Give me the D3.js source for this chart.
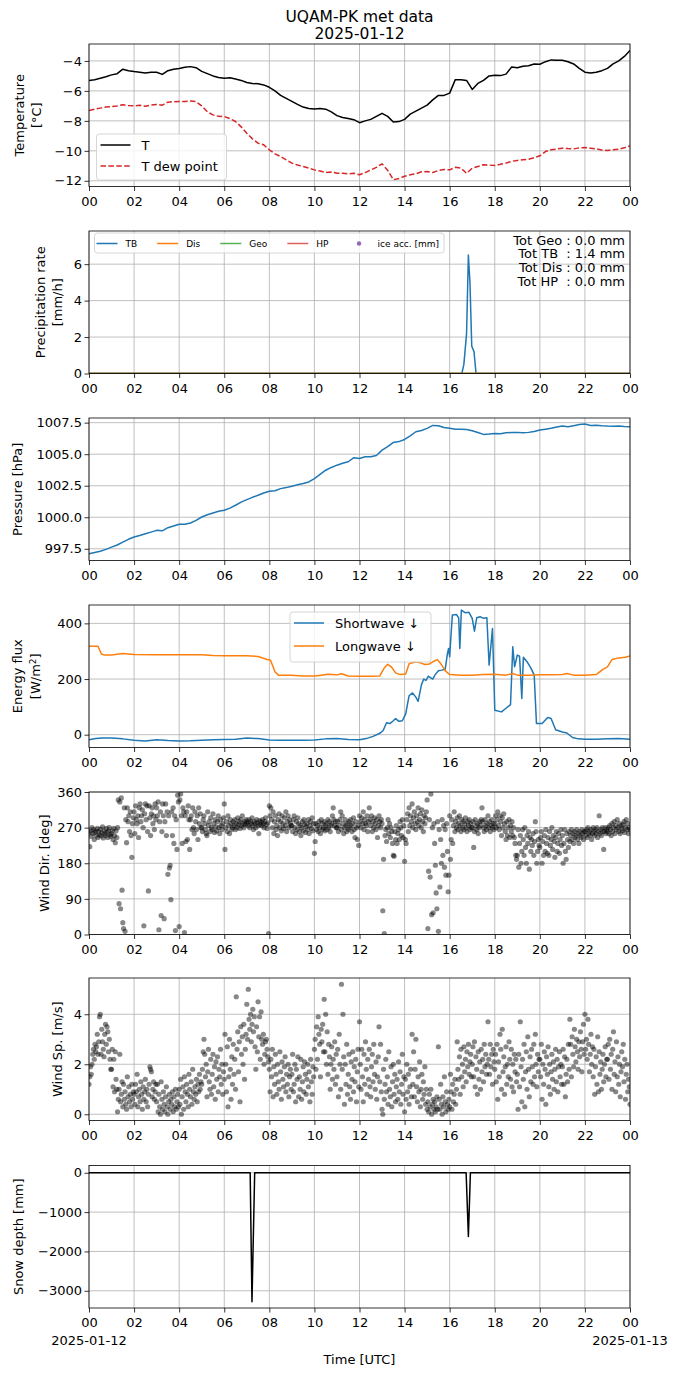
<!DOCTYPE html>
<html>
<head>
<meta charset="utf-8">
<script src="https://cdn.jsdelivr.net/npm/d3@7"></script>
<style>
  body { margin: 0; background: #fff; }
  svg text { font-family: "DejaVu Sans", sans-serif; }
</style>
</head>
<body>
<div id="chart"></div>
<script>
// all times are hours since 2025-01-12 00:00 UTC
const hourTicks = [0, 2, 4, 6, 8, 10, 12, 14, 16, 18, 20, 22, 24]
const hourLabels = ['00', '02', '04', '06', '08', '10', '12', '14', '16', '18', '20', '22', '00']
const dayLabels = ['2025-01-12', '2025-01-13']

// temperature and dew point, one value every 15 min
const temp = [
  -5.31, -5.25, -5.15, -5.05, -4.93, -4.85, -4.55, -4.65, -4.71, -4.75, -4.80, -4.75,
  -4.76, -4.90, -4.65, -4.55, -4.50, -4.42, -4.38, -4.45, -4.70, -4.85, -5.00, -5.10,
  -5.15, -5.12, -5.20, -5.30, -5.44, -5.50, -5.53, -5.60, -5.76, -6.00, -6.30, -6.50,
  -6.70, -6.90, -7.08, -7.18, -7.20, -7.18, -7.22, -7.40, -7.65, -7.78, -7.84, -7.92,
  -8.12, -8.00, -7.90, -7.70, -7.50, -7.70, -8.07, -8.05, -7.90, -7.55, -7.35, -7.15,
  -6.95, -6.60, -6.30, -6.30, -6.15, -5.25, -5.25, -5.30, -5.90, -5.50, -5.30, -5.00,
  -4.95, -4.98, -4.88, -4.40, -4.45, -4.35, -4.32, -4.20, -4.22, -4.05, -3.93, -3.95,
  -3.95, -4.05, -4.20, -4.50, -4.75, -4.80, -4.75, -4.65, -4.50, -4.20, -4.00, -3.70, -3.30
]
const dewPoint = [
  -7.31, -7.22, -7.15, -7.08, -7.04, -7.00, -6.93, -6.98, -7.00, -6.96, -7.02, -6.95,
  -6.90, -6.95, -6.75, -6.72, -6.71, -6.70, -6.67, -6.72, -7.00, -7.40, -7.60, -7.70,
  -7.71, -7.85, -8.04, -8.40, -8.82, -9.20, -9.49, -9.60, -9.93, -10.20, -10.38, -10.60,
  -10.82, -10.95, -11.04, -11.15, -11.27, -11.35, -11.44, -11.42, -11.49, -11.50, -11.53, -11.50,
  -11.60, -11.45, -11.27, -11.10, -10.87, -11.30, -11.93, -11.85, -11.70, -11.60, -11.53, -11.40,
  -11.38, -11.45, -11.31, -11.25, -11.27, -11.10, -11.16, -11.50, -11.16, -11.05, -10.93, -10.95,
  -10.98, -10.90, -10.82, -10.70, -10.64, -10.60, -10.56, -10.45, -10.33, -10.05, -9.93, -9.88,
  -9.82, -9.85, -9.87, -9.80, -9.78, -9.82, -9.87, -9.95, -9.98, -9.92, -9.89, -9.80, -9.67
]

// precipitation rate [mm/h], [hour, value]
const precipTB = [[0, 0], [16.54, 0], [16.63, 0.5], [16.75, 2.2], [16.83, 6.5], [16.9, 5.0],
  [16.98, 1.5], [17.08, 1.2], [17.17, 0], [24, 0]]
const precipDis = [[0, 0], [24, 0]]
const precipGeo = [[0, 0], [24, 0]]
const precipHP = [[0, 0], [24, 0]]
const iceAcc = []
const precipTotals = ['Tot Geo : 0.0 mm', 'Tot TB  : 1.4 mm', 'Tot Dis : 0.0 mm', 'Tot HP  : 0.0 mm']

// pressure [hPa], one value every 15 min
const pressure = [
  997.10, 997.20, 997.30, 997.45, 997.63, 997.80, 998.03, 998.25, 998.43, 998.55, 998.69, 998.82,
  998.96, 998.92, 999.17, 999.30, 999.44, 999.45, 999.54, 999.75, 1000.02, 1000.20, 1000.34, 1000.48,
  1000.55, 1000.72, 1000.95, 1001.20, 1001.40, 1001.58, 1001.74, 1001.92, 1002.06, 1002.10, 1002.27, 1002.35,
  1002.46, 1002.58, 1002.67, 1002.80, 1003.07, 1003.40, 1003.73, 1003.95, 1004.13, 1004.28, 1004.40, 1004.72,
  1004.66, 1004.80, 1004.79, 1004.90, 1005.32, 1005.60, 1005.93, 1006.00, 1006.17, 1006.45, 1006.78, 1006.88,
  1007.05, 1007.28, 1007.26, 1007.12, 1007.05, 1006.98, 1006.97, 1006.95, 1006.86, 1006.72, 1006.57, 1006.60,
  1006.65, 1006.62, 1006.70, 1006.72, 1006.73, 1006.70, 1006.73, 1006.80, 1006.92, 1006.98, 1007.05, 1007.15,
  1007.23, 1007.18, 1007.26, 1007.35, 1007.39, 1007.28, 1007.29, 1007.25, 1007.23, 1007.22, 1007.23, 1007.20, 1007.18
]

// downwelling radiation [W/m2], [hour, value]
const shortwave = [[0, -18], [0.3, -14], [0.6, -12], [1, -12], [1.5, -15], [2, -20], [2.5, -23], [3, -18],
  [3.5, -21], [4, -23], [4.5, -22], [5, -20], [5.5, -18], [6, -17], [6.5, -16], [7, -12], [7.5, -14], [8, -19],
  [8.5, -20], [9, -20], [9.5, -20], [10, -19], [10.5, -15], [11, -14], [11.5, -17], [12, -18], [12.3, -14],
  [12.6, -6], [12.9, 5], [13.05, 15], [13.2, 43], [13.35, 40], [13.5, 50], [13.6, 58], [13.75, 48], [13.9, 50],
  [14.05, 75], [14.2, 140], [14.35, 150], [14.5, 135], [14.6, 120], [14.75, 180], [14.85, 200], [14.95, 195],
  [15.05, 210], [15.15, 205], [15.25, 200], [15.35, 215], [15.5, 230], [15.65, 232], [15.8, 235], [15.9, 290],
  [15.95, 310], [16.0, 280], [16.05, 346], [16.12, 430], [16.3, 432], [16.4, 420], [16.45, 310], [16.52, 448],
  [16.7, 438], [16.85, 440], [17.0, 418], [17.1, 372], [17.2, 420], [17.35, 424], [17.5, 418], [17.65, 420],
  [17.75, 250], [17.9, 382], [18.0, 88], [18.3, 82], [18.5, 95], [18.7, 108], [18.8, 316], [18.88, 244],
  [19.0, 286], [19.1, 282], [19.2, 130], [19.27, 278], [19.45, 260], [19.6, 240], [19.75, 214], [19.85, 40],
  [20.1, 40], [20.35, 62], [20.5, 58], [20.7, 18], [21.0, 10], [21.2, 6], [21.45, -10], [21.7, -15], [22, -16],
  [22.5, -16], [23, -15], [23.5, -14], [24, -16]]
const longwave = [[0, 318], [0.4, 318], [0.55, 290], [0.7, 286], [1, 286], [1.5, 292], [2, 288], [3, 287],
  [4, 287], [5, 287], [5.5, 285], [6, 284], [7, 284], [7.5, 281], [7.9, 270], [8.05, 268], [8.25, 226],
  [8.4, 214], [9, 214], [9.5, 211], [10, 211], [10.3, 214], [10.6, 217], [11, 215], [11.2, 219], [11.5, 211],
  [12, 210], [12.5, 210], [12.9, 211], [13.1, 240], [13.25, 253], [13.4, 245], [13.6, 222], [13.8, 216],
  [14.05, 218], [14.2, 255], [14.5, 262], [14.7, 258], [14.9, 252], [15.1, 254], [15.3, 264], [15.45, 270],
  [15.6, 256], [15.8, 230], [16, 216], [16.5, 214], [17, 214], [17.5, 216], [18, 217], [18.5, 214], [18.8, 220],
  [19, 214], [19.5, 214], [20, 215], [20.5, 215], [21, 216], [21.2, 220], [21.5, 214], [22, 214], [22.5, 216],
  [22.8, 235], [23, 244], [23.2, 270], [23.5, 276], [23.8, 278], [24, 283]]

// wind, one value every 2 min (30 per hour, one row per hour)
const windDir = [
  258, 222, 262, 248, 270, 255, 265, 240, 258, 262, 250, 268, 245, 260, 252, 266, 249, 257, 272, 244, 262, 255, 250, 268, 258, 245, 262, 270, 252, 248,
  255, 262, 240, 268, 250, 232, 262, 245, 270, 340, 78, 335, 65, 345, 112, 30, 15, 320, 8, 290, 232, 320, 285, 300, 260, 310, 250, 195, 280, 295,
  310, 255, 325, 290, 280, 300, 245, 320, 330, 285, 300, 315, 270, 22, 305, 330, 290, 325, 260, 110, 325, 295, 250, 305, 320, 280, 300, 265, 330, 290,
  320, 300, 335, 12, 285, 310, 48, 260, 330, 300, 40, 285, 330, 250, 310, 152, 300, 168, 175, 88, 310, 250, 320, 230, 300, 10, 290, 215, 352, 335,
  20, 340, 355, 300, 230, 320, 310, 5, 300, 235, 310, 240, 325, 290, 215, 290, 300, 265, 320, 270, 255, 310, 285, 265, 300, 240, 320, 280, 305, 270,
  270, 260, 290, 300, 280, 265, 255, 250, 310, 275, 285, 260, 295, 270, 265, 305, 280, 258, 290, 272, 262, 285, 300, 270, 255, 290, 275, 265, 280, 295,
  330, 215, 270, 285, 260, 300, 275, 255, 290, 280, 265, 270, 285, 275, 290, 265, 280, 270, 295, 278, 285, 268, 290, 275, 300, 280, 270, 285, 278, 290,
  280, 285, 275, 290, 270, 285, 280, 295, 275, 265, 285, 280, 270, 290, 282, 275, 255, 288, 278, 285, 275, 290, 280, 270, 285, 295, 278, 268, 282, 2,
  325, 300, 320, 290, 270, 310, 255, 285, 300, 265, 275, 250, 290, 305, 270, 285, 262, 300, 280, 268, 295, 275, 310, 260, 285, 300, 270, 290, 280, 275,
  275, 260, 290, 300, 270, 255, 285, 265, 295, 280, 260, 275, 250, 270, 285, 262, 290, 278, 258, 272, 280, 265, 290, 255, 275, 285, 268, 295, 262, 280,
  205, 235, 280, 265, 275, 260, 285, 270, 255, 290, 280, 265, 270, 285, 262, 275, 280, 265, 290, 270, 285, 260, 275, 280, 300, 320, 290, 275, 285, 270,
  270, 285, 260, 275, 290, 310, 265, 300, 280, 255, 270, 290, 275, 260, 280, 265, 285, 270, 290, 275, 260, 280, 295, 265, 245, 285, 270, 240, 275, 225,
  300, 285, 270, 295, 280, 310, 265, 290, 280, 275, 300, 260, 285, 320, 290, 275, 300, 260, 285, 270, 295, 280, 265, 290, 245, 275, 300, 285, 270, 290,
  280, 60, 190, 2, 250, 265, 235, 270, 290, 255, 280, 245, 270, 260, 230, 200, 198, 260, 240, 275, 230, 255, 265, 240, 285, 270, 250, 290, 245, 275,
  185, 240, 230, 290, 305, 260, 320, 275, 300, 285, 330, 270, 295, 310, 280, 265, 300, 285, 320, 275, 290, 305, 270, 315, 285, 260, 300, 280, 295, 310,
  340, 15, 160, 290, 145, 355, 50, 270, 55, 280, 230, 175, 105, 65, 285, 8, 265, 120, 240, 180, 290, 200, 275, 170, 265, 150, 280, 210, 108, 150,
  300, 190, 240, 290, 230, 275, 310, 260, 285, 270, 295, 265, 280, 300, 275, 260, 290, 270, 285, 265, 280, 295, 270, 260, 285, 275, 290, 265, 280, 270,
  270, 285, 220, 260, 290, 275, 265, 280, 255, 270, 285, 275, 290, 320, 285, 270, 260, 290, 275, 265, 280, 300, 270, 285, 260, 275, 290, 270, 280, 265,
  280, 300, 270, 290, 310, 275, 265, 300, 285, 250, 295, 270, 305, 280, 260, 240, 285, 250, 270, 290, 245, 275, 260, 285, 250, 270, 245, 230, 200, 190,
  200, 265, 170, 230, 250, 180, 210, 265, 240, 200, 270, 220, 180, 250, 230, 260, 165, 245, 210, 240, 225, 255, 200, 235, 285, 260, 180, 210, 240, 225,
  220, 245, 260, 180, 235, 200, 250, 210, 265, 230, 205, 245, 200, 260, 225, 240, 270, 215, 250, 235, 195, 245, 260, 210, 230, 255, 205, 240, 265, 225,
  250, 180, 230, 265, 210, 190, 255, 240, 220, 260, 235, 250, 265, 240, 255, 230, 260, 245, 250, 265, 240, 255, 230, 260, 250, 245, 265, 255, 240, 260,
  260, 250, 265, 245, 270, 255, 260, 250, 265, 240, 255, 270, 260, 250, 265, 255, 270, 245, 260, 300, 255, 265, 250, 270, 260, 215, 260, 270, 255, 265,
  260, 270, 255, 275, 265, 250, 280, 260, 270, 285, 255, 275, 265, 290, 270, 260, 280, 255, 275, 268, 262, 278, 285, 258, 270, 290, 265, 280, 255, 270,
  265
]
const windSpeed = [
  1.2, 1.5, 1.9, 1.6, 2.0, 2.4, 2.6, 2.2, 2.8, 2.5, 2.7, 3.2, 2.4, 2.9, 3.9, 4.0, 2.4, 3.4, 2.9, 2.6, 2.3, 3.2, 3.6, 2.8, 3.5, 3.3, 2.5, 3.0, 2.2, 1.8,
  1.8, 2.6, 1.1, 2.2, 0.9, 2.5, 1.4, 1.0, 0.1, 0.6, 1.0, 2.4, 0.5, 0.8, 1.3, 0.3, 1.2, 0.6, 0.9, 0.4, 0.2, 1.5, 0.7, 1.1, 0.5, 0.8, 0.3, 1.2, 0.6, 0.9,
  0.8, 0.4, 1.2, 0.9, 1.6, 0.3, 0.7, 1.0, 0.5, 1.3, 0.8, 0.2, 1.1, 0.6, 0.9, 1.4, 0.5, 1.0, 0.3, 0.8, 1.2, 1.9, 1.8, 1.7, 0.7, 1.0, 1.3, 0.6, 0.9, 1.2,
  0.5, 1.2, 0.1, 0.8, 0.3, 0.0, 1.3, 0.6, 0.2, 0.9, 0.4, 0.1, 0.7, 1.1, 0.3, 0.0, 0.5, 0.8, 0.2, 0.6, 0.4, 0.9, 0.1, 0.7, 0.3, 1.0, 0.2, 0.5, 0.8, 0.3,
  1.0, 0.4, 1.4, 0.0, 0.7, 1.1, 0.2, 1.5, 0.9, 0.5, 1.2, 0.8, 0.3, 1.6, 1.0, 0.7, 1.3, 0.4, 1.8, 0.9, 0.6, 1.1, 0.8, 1.4, 0.5, 1.2, 0.9, 1.6, 1.0, 1.3,
  1.2, 1.8, 2.5, 3.0, 2.4, 1.5, 2.0, 0.7, 1.7, 2.6, 1.3, 1.0, 2.2, 0.8, 1.6, 2.4, 1.1, 1.9, 0.6, 2.1, 1.4, 2.3, 0.9, 1.8, 1.5, 2.6, 1.2, 2.0, 0.8, 1.7,
  1.4, 3.2, 2.0, 0.9, 2.7, 0.3, 1.5, 3.0, 1.8, 0.6, 2.3, 1.2, 2.8, 1.6, 2.2, 1.0, 4.7, 2.6, 3.3, 1.7, 2.9, 0.5, 3.5, 2.4, 3.1, 2.0, 3.6, 1.4, 2.6, 3.2,
  4.4, 3.0, 5.0, 3.8, 3.4, 4.0, 2.9, 3.6, 4.2, 3.3, 3.9, 2.7, 1.8, 3.5, 2.5, 4.5, 3.1, 3.9, 2.2, 4.1, 3.0, 2.8, 3.2, 2.0, 2.4, 2.9, 3.0, 2.6, 2.3, 2.1,
  1.8, 0.9, 2.2, 1.5, 2.6, 0.7, 1.9, 1.2, 2.4, 1.6, 0.8, 2.0, 1.3, 1.0, 2.5, 1.7, 0.6, 2.1, 1.4, 1.1, 1.9, 2.3, 0.9, 1.6, 1.2, 2.0, 0.7, 1.5, 1.8, 1.0,
  1.6, 2.4, 0.9, 1.2, 2.0, 0.5, 1.8, 1.4, 2.3, 0.7, 1.5, 1.0, 2.2, 0.6, 1.3, 1.9, 0.9, 2.1, 1.6, 0.8, 1.4, 2.0, 1.1, 1.7, 0.5, 2.2, 1.3, 0.8, 1.9, 1.5,
  2.6, 3.0, 1.8, 3.5, 2.2, 3.9, 3.2, 2.8, 1.5, 3.4, 2.9, 3.6, 2.5, 4.6, 2.5, 4.0, 2.0, 3.3, 1.6, 2.8, 2.3, 1.0, 2.0, 2.7, 1.4, 2.2, 1.8, 2.9, 1.2, 2.4,
  1.5, 2.6, 0.7, 3.2, 2.0, 1.0, 5.2, 1.8, 4.0, 2.3, 0.4, 2.0, 1.2, 2.8, 0.8, 1.6, 2.4, 1.1, 0.6, 2.1, 1.4, 2.5, 0.9, 1.9, 1.3, 2.2, 0.5, 1.7, 2.6, 1.1,
  3.7, 2.0, 1.0, 2.6, 1.5, 0.5, 2.4, 1.2, 2.9, 1.8, 0.8, 2.2, 1.4, 2.6, 1.1, 0.7, 1.9, 2.4, 1.3, 2.8, 1.6, 1.0, 2.1, 0.6, 1.5, 2.3, 3.5, 1.3, 2.8, 0.9,
  0.2, 0.0, 1.8, 0.6, 1.2, 2.2, 0.9, 1.5, 0.4, 2.5, 1.0, 0.7, 1.9, 0.3, 1.3, 2.0, 0.8, 1.6, 0.5, 1.1, 1.4, 0.6, 2.1, 0.9, 1.7, 0.4, 1.2, 2.4, 0.8, 1.5,
  0.1, 1.4, 0.6, 2.0, 0.9, 1.6, 0.4, 1.1, 1.8, 0.7, 3.2, 1.2, 2.5, 0.7, 1.8, 3.0, 1.1, 0.5, 1.5, 0.9, 2.1, 0.3, 1.0, 1.6, 0.6, 1.3, 0.8, 1.9, 0.4, 1.0,
  0.2, 0.5, 0.1, 0.8, 0.3, 1.0, 0.0, 0.4, 0.6, 0.2, 0.5, 0.1, 0.3, 0.7, 0.2, 2.7, 0.6, 0.2, 1.2, 0.4, 0.0, 0.7, 0.3, 1.5, 0.5, 0.1, 0.9, 0.4, 0.2, 0.6,
  0.3, 1.6, 0.9, 0.2, 1.2, 0.5, 0.8, 1.4, 0.4, 1.0, 2.9, 1.8, 1.4, 2.3, 0.8, 2.6, 1.5, 2.0, 1.1, 2.7, 1.7, 2.2, 1.3, 2.5, 1.9, 2.8, 1.6, 2.1, 2.4, 1.5,
  2.0, 2.7, 1.5, 2.9, 1.1, 2.3, 1.8, 0.8, 2.5, 1.4, 2.1, 1.0, 2.6, 1.7, 2.2, 1.3, 2.8, 1.9, 2.4, 1.6, 2.0, 3.7, 2.2, 1.6, 2.8, 1.9, 2.4, 1.2, 2.6, 2.1,
  1.8, 2.4, 1.3, 2.8, 0.6, 2.1, 1.5, 3.2, 2.6, 1.0, 3.4, 1.7, 2.3, 0.8, 1.9, 2.7, 1.2, 2.0, 1.5, 2.9, 2.2, 1.4, 2.6, 1.1, 2.0, 0.9, 2.4, 1.7, 2.2, 1.3,
  1.6, 0.2, 2.4, 1.1, 3.7, 1.9, 0.5, 2.2, 1.4, 2.8, 0.3, 1.7, 2.5, 1.0, 3.1, 1.8, 0.7, 2.3, 1.3, 2.6, 1.9, 1.2, 2.8, 1.5, 3.2, 2.0, 1.1, 2.4, 1.7, 2.2,
  2.2, 1.5, 2.8, 0.6, 2.0, 1.2, 2.5, 1.8, 0.4, 2.3, 1.6, 2.7, 1.1, 2.0, 0.8, 1.7, 2.4, 1.4, 2.1, 1.0, 1.8, 2.6, 1.3, 2.2, 0.9, 1.9, 2.5, 1.5, 2.0, 1.2,
  1.9, 2.6, 1.2, 2.3, 0.7, 1.6, 2.2, 1.3, 2.8, 1.8, 3.8, 2.8, 1.5, 3.1, 2.4, 1.9, 3.4, 2.7, 2.1, 3.0, 2.5, 1.8, 2.9, 2.3, 3.3, 2.6, 1.7, 2.9, 3.6, 2.4,
  4.0, 2.6, 3.0, 2.2, 3.8, 2.8, 1.7, 2.4, 3.2, 2.0, 2.7, 1.5, 2.6, 0.8, 1.9, 2.3, 1.2, 3.1, 0.9, 2.5, 1.6, 2.1, 1.0, 1.8, 2.4, 1.3, 2.0, 2.7, 1.5, 2.2,
  2.2, 2.8, 1.4, 3.0, 1.8, 2.4, 1.0, 2.6, 3.3, 1.6, 2.1, 0.9, 2.9, 1.5, 2.3, 1.2, 2.0, 0.7, 1.7, 2.5, 1.9, 2.8, 1.3, 2.2, 0.6, 1.6, 2.0, 0.9, 1.4, 1.1,
  0.4
]

// snow depth [mm], [hour, value]
const snowDepth = [[0, 0], [7.15, 0], [7.23, -3280], [7.35, 0], [16.73, 0], [16.83, -1620], [16.92, 0], [24, 0]]

// ---- layout ----
const width = 680
const height = 1377
const left = 89
const plotW = 541
const plotH = 142.5
const tops = [44, 231, 418, 605, 792, 978, 1165.5]
const font = 13

const svg = d3.select('#chart').append('svg')
  .attr('width', width)
  .attr('height', height)

const x = d3.scaleLinear().domain([0, 24]).range([0, plotW])

function panel (i, yDomain, yTicks) {
  const g = svg.append('g').attr('transform', `translate(${left}, ${tops[i]})`)
  const y = d3.scaleLinear().domain(yDomain).range([plotH, 0])
  // grid
  g.append('g').selectAll('line').data(hourTicks).join('line')
    .attr('x1', d => x(d)).attr('x2', d => x(d))
    .attr('y1', 0).attr('y2', plotH)
    .attr('stroke', '#b0b0b0').attr('stroke-width', 0.8)
  g.append('g').selectAll('line').data(yTicks).join('line')
    .attr('x1', 0).attr('x2', plotW)
    .attr('y1', d => y(d)).attr('y2', d => y(d))
    .attr('stroke', '#b0b0b0').attr('stroke-width', 0.8)
  svg.append('clipPath').attr('id', 'clip' + i)
    .append('rect').attr('width', plotW).attr('height', plotH)
  const plot = g.append('g').attr('clip-path', `url(#clip${i})`)
  return { g, y, plot, yTicks }
}

function finish (p, yFormat) {
  p.g.append('rect')
    .attr('width', plotW).attr('height', plotH)
    .attr('fill', 'none').attr('stroke', '#000').attr('stroke-width', 0.8)
  const xa = p.g.append('g')
    .attr('transform', `translate(0, ${plotH})`)
    .call(d3.axisBottom(x).tickValues(hourTicks).tickSize(4.5).tickPadding(5.5)
      .tickFormat((d, i) => hourLabels[i]))
  const ya = p.g.append('g')
    .call(d3.axisLeft(p.y).tickValues(p.yTicks).tickSize(4.5).tickPadding(2.5)
      .tickFormat(yFormat))
  ;[xa, ya].forEach(a => {
    a.attr('font-size', font).attr('font-family', 'DejaVu Sans')
    a.select('.domain').remove()
    a.selectAll('.tick line').attr('stroke', '#000').attr('stroke-width', 0.8)
    a.selectAll('.tick text').attr('fill', '#000')
  })
}

function yLabel (lines, xs, i) {
  lines.forEach((t, k) => {
    const txt = svg.append('text')
      .attr('transform', `translate(${xs[k]}, ${tops[i] + plotH / 2}) rotate(-90)`)
      .attr('text-anchor', 'middle')
      .attr('dy', '0.35em')
      .attr('font-size', font)
    if (Array.isArray(t)) {
      t.forEach(part => {
        txt.append('tspan').text(part.text)
          .attr('baseline-shift', part.sup ? '40%' : null)
          .attr('font-size', part.sup ? 9 : null)
      })
    } else {
      txt.text(t)
    }
  })
}

function linePath (p, data, color, w, dash) {
  p.plot.append('path')
    .attr('d', d3.line().x(d => x(d[0])).y(d => p.y(d[1]))(data))
    .attr('fill', 'none')
    .attr('stroke', color)
    .attr('stroke-width', w)
    .attr('stroke-dasharray', dash || null)
    .attr('stroke-linejoin', 'round')
}

function legend (p, items, bx, by, bw, bh, rowH, fs, lineLen) {
  const lg = p.g.append('g').attr('transform', `translate(${bx}, ${by})`)
  lg.append('rect').attr('width', bw).attr('height', bh).attr('rx', 3)
    .attr('fill', '#fff').attr('fill-opacity', 0.8)
    .attr('stroke', '#cccccc').attr('stroke-width', 0.8)
  items.forEach((it, k) => {
    const cy = 11 + k * rowH
    lg.append('line').attr('x1', 4).attr('x2', 4 + lineLen).attr('y1', cy).attr('y2', cy)
      .attr('stroke', it.color).attr('stroke-width', 1.5)
      .attr('stroke-dasharray', it.dash || null)
    lg.append('text').attr('x', 4 + lineLen + 11).attr('y', cy).attr('dy', '0.35em')
      .attr('font-size', fs).text(it.label)
  })
}

function scatter (p, data) {
  p.plot.selectAll('circle').data(data).join('circle')
    .attr('cx', d => x(d[0])).attr('cy', d => p.y(d[1])).attr('r', 2.6)
    .attr('fill', '#000').attr('fill-opacity', 0.47)
}

const C = { blue: '#1f77b4', orange: '#ff7f0e', green: '#2ca02c', red: '#d62728', purple: '#9467bd' }
const every15 = arr => arr.map((v, i) => [i * 0.25, v])
const every2 = arr => arr.map((v, i) => [i / 30, v])

// ---- title ----
svg.append('text').attr('x', left + plotW / 2).attr('y', 22).attr('text-anchor', 'middle')
  .attr('font-size', 15.5).text('UQAM-PK met data')
svg.append('text').attr('x', left + plotW / 2).attr('y', 39).attr('text-anchor', 'middle')
  .attr('font-size', 15.5).text(dayLabels[0])

// ---- 1: temperature ----
const p1 = panel(0, [-12.38, -2.87], [-12, -10, -8, -6, -4])
linePath(p1, every15(temp), '#000', 1.5)
linePath(p1, every15(dewPoint), C.red, 1.5, '5.5,2.4')
legend(p1, [{ label: 'T', color: '#000' }, { label: 'T dew point', color: C.red, dash: '5.5,2.4' }],
  7.5, 90, 130, 46, 21, font, 30)
finish(p1, d3.format('d'))
yLabel(['Temperature', '[°C]'], [19.5, 36.5], 0)

// ---- 2: precipitation ----
const p2 = panel(1, [0, 7.82], [0, 2, 4, 6])
linePath(p2, precipTB, C.blue, 1.5)
linePath(p2, precipDis, C.orange, 1.5)
linePath(p2, precipHP, C.red, 1.5)
linePath(p2, precipGeo, C.green, 1.5)
p2.plot.selectAll('circle.ice').data(iceAcc).join('circle')
  .attr('cx', d => x(d[0])).attr('cy', d => p2.y(d[1])).attr('r', 2).attr('fill', C.purple)
{
  const items = [
    { label: 'TB', color: C.blue }, { label: 'Dis', color: C.orange },
    { label: 'Geo', color: C.green, op: 0.8 }, { label: 'HP', color: C.red, op: 0.75 },
    { label: 'ice acc. [mm]', color: C.purple, dot: true }
  ]
  const lg = p2.g.append('g').attr('transform', 'translate(5.5, 2)')
  const box = lg.append('rect').attr('height', 20).attr('rx', 3)
    .attr('fill', '#fff').attr('fill-opacity', 0.8)
    .attr('stroke', '#cccccc').attr('stroke-width', 0.8)
  let cx = 2
  items.forEach(it => {
    if (it.dot) {
      lg.append('circle').attr('cx', cx + 10.5).attr('cy', 10.5).attr('r', 2.2).attr('fill', it.color)
    } else {
      lg.append('line').attr('x1', cx).attr('x2', cx + 21).attr('y1', 10.5).attr('y2', 10.5)
        .attr('stroke', it.color).attr('stroke-width', 1.5).attr('stroke-opacity', it.op || 1)
    }
    const t = lg.append('text').attr('x', cx + 29).attr('y', 10.5).attr('dy', '0.35em')
      .attr('font-size', 9).text(it.label)
    cx += 29 + t.node().getComputedTextLength() + 20
  })
  box.attr('width', cx - 20 + 5)
}
p2.g.append('g').selectAll('text').data(precipTotals).join('text')
  .attr('x', plotW - 5).attr('y', (d, i) => 13.5 + i * 13.7)
  .attr('text-anchor', 'end').attr('font-size', font)
  .style('white-space', 'pre').attr('xml:space', 'preserve')
  .text(d => d)
finish(p2, d3.format('d'))
yLabel(['Precipitation rate', '[mm/h]'], [40, 57], 1)

// ---- 3: pressure ----
const p3 = panel(2, [996.57, 1007.87], [997.5, 1000, 1002.5, 1005, 1007.5])
linePath(p3, every15(pressure), C.blue, 1.5)
finish(p3, d3.format('.1f'))
yLabel(['Pressure [hPa]'], [17], 2)

// ---- 4: radiation ----
const p4 = panel(3, [-46, 466], [0, 200, 400])
linePath(p4, shortwave, C.blue, 1.5)
linePath(p4, longwave, C.orange, 1.5)
legend(p4, [{ label: 'Shortwave ↓', color: C.blue }, { label: 'Longwave ↓', color: C.orange }],
  201, 7, 141, 50, 23, font, 30)
finish(p4, d3.format('d'))
yLabel(['Energy flux', [{ text: '[W/m' }, { text: '2', sup: true }, { text: ']' }]], [17, 35], 3)

// ---- 5: wind direction ----
const p5 = panel(4, [0, 360], [0, 90, 180, 270, 360])
scatter(p5, every2(windDir))
finish(p5, d3.format('d'))
yLabel(['Wind Dir. [deg]'], [44], 4)

// ---- 6: wind speed ----
const p6 = panel(5, [-0.25, 5.45], [0, 2, 4])
scatter(p6, every2(windSpeed))
finish(p6, d3.format('d'))
yLabel(['Wind Sp. [m/s]'], [57], 5)

// ---- 7: snow depth ----
const p7 = panel(6, [-3438, 185], [-3000, -2000, -1000, 0])
linePath(p7, snowDepth, '#000', 1.5)
finish(p7, d3.format('d'))
yLabel(['Snow depth [mm]'], [18], 6)

const bottom = tops[6] + plotH
svg.selectAll('text.day').data(dayLabels).join('text')
  .attr('class', 'day')
  .attr('x', (d, i) => left + x(i * 24))
  .attr('y', bottom + 37)
  .attr('text-anchor', 'middle').attr('font-size', font)
  .text(d => d)
svg.append('text').attr('x', left + plotW / 2).attr('y', bottom + 56)
  .attr('text-anchor', 'middle').attr('font-size', font).text('Time [UTC]')
</script>
</body>
</html>
